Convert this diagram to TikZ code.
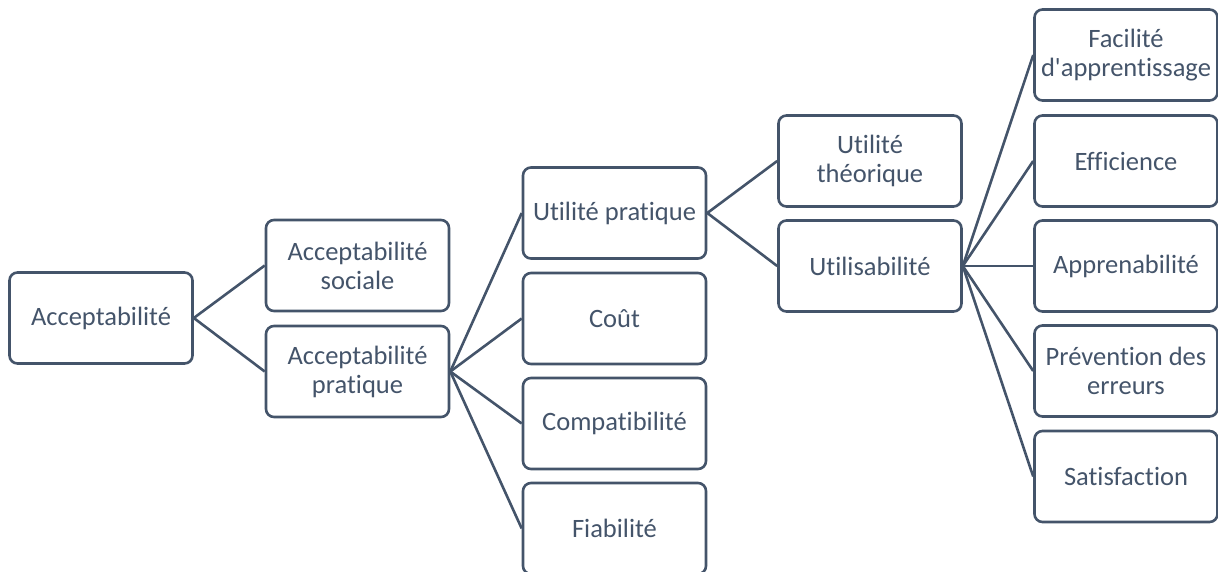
\documentclass[tikz,border=0pt]{standalone}
\usepackage{fontspec}
\setmainfont{Carlito}[Ligatures={TeXOff,CommonOff}]
\definecolor{slate}{HTML}{44546A}
\begin{document}
\begin{tikzpicture}[x=1pt,y=-1pt,
  box/.style={draw=slate, line width=2.6pt, rounded corners=8pt, minimum width=183pt, minimum height=91pt, align=center, text=slate, font=\fontsize{26.5}{29}\selectfont, inner sep=1pt},
  link/.style={draw=slate, line width=2.6pt}]
\useasboundingbox (0,0) rectangle (1218,571);
\node[box] (a) at (101,318) {Acceptabilité};
\node[box] (s) at (357.5,265.5) {Acceptabilité\\sociale};
\node[box] (p) at (357.5,371.5) {Acceptabilité\\pratique};
\node[box] (up) at (614.5,213) {Utilité pratique};
\node[box] (c) at (614.5,318.5) {Coût};
\node[box] (cp) at (614.5,423.5) {Compatibilité};
\node[box] (f) at (614.5,528.5) {Fiabilité};
\node[box] (ut) at (870,161) {Utilité\\théorique};
\node[box] (u) at (870,266) {Utilisabilité};
\node[box] (fa) at (1126,55) {Facilité\\d'apprentissage};
\node[box] (e) at (1126,161) {Efficience};
\node[box] (ap) at (1126,266) {Apprenabilité};
\node[box] (pr) at (1126,371) {Prévention des\\erreurs};
\node[box] (sa) at (1126,476.5) {Satisfaction};
\foreach \x/\y in {a/s,a/p,p/up,p/c,p/cp,p/f,up/ut,up/u,u/fa,u/e,u/ap,u/pr,u/sa}
  \draw[link] (\x.east) -- (\y.west);
\end{tikzpicture}
\end{document}
